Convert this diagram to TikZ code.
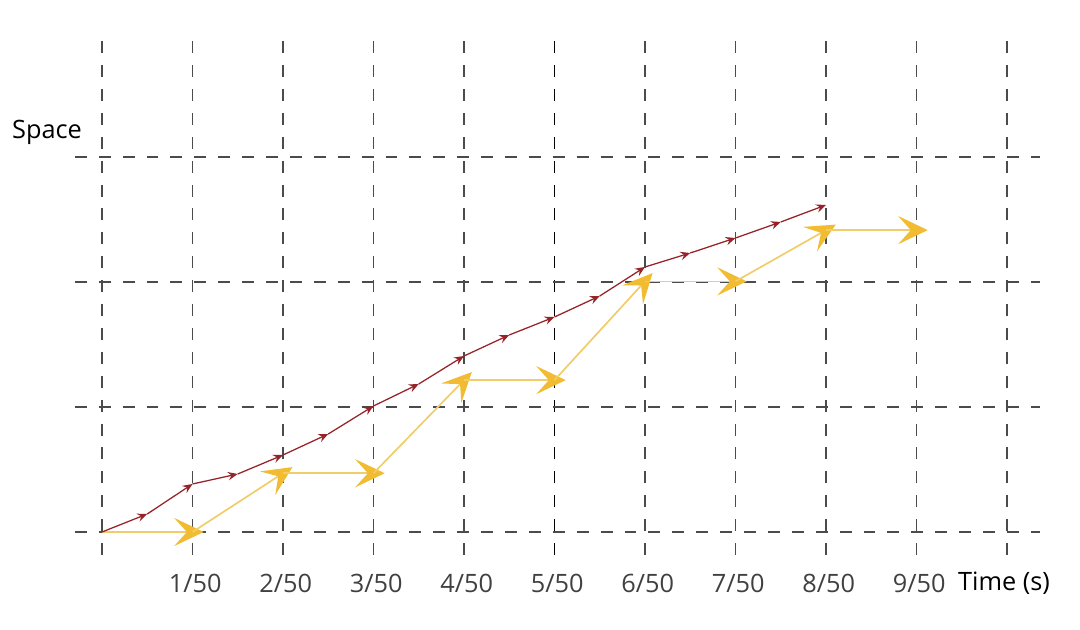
\documentclass[tikz,border=0pt]{standalone}
\usepackage{fontspec}
\setmainfont{Open Sans}
\usetikzlibrary{arrows.meta}
\definecolor{gridgray}{RGB}{75,75,75}
\definecolor{fastred}{RGB}{150,35,40}
\definecolor{slowgold}{RGB}{242,188,50}
\definecolor{slowline}{RGB}{240,205,105}
\tikzset{>=stealth,
  gridline/.style={gridgray, line width=0.9pt, dash pattern=on 8.5pt off 8.5pt},
  redstep/.style={fastred, line width=0.9pt, -{Stealth[length=7pt,width=6pt,inset=2.5pt]}},
  goldstep/.style={slowline, line width=1.2pt, -{Stealth[length=21pt,width=20pt,inset=9pt,color=slowgold]}, shorten >=-8pt},
  ticklabel/.style={font=\fontsize{18}{22}\selectfont, text=black!75},
  axislabel/.style={font=\fontsize{18}{22}\selectfont}
}

\begin{document}
\begin{tikzpicture}[x=2.2625cm, y=3.125cm]
    \useasboundingbox (-1.127,-0.784) rectangle (10.807,4.256);

    % grid
    \foreach \t in {0,...,10}
        \draw[gridline] (\t,-0.184) -- (\t,3.976);
    \draw[gridline, black, line width=1.2pt] (5,-0.184) -- (5,3.976);
    \foreach \s in {0,...,3}
        \draw[gridline] (-0.3,\s) -- (10.36,\s);

    % slow path
    \foreach \s [count=\i from 0] in {0,0,0.47,0.47,1.215,1.215,2.005,2.005,2.415,2.415}
        \coordinate (g\i) at (\i,\s);
    \foreach \i [remember=\i as \j (initially 0)] in {1,...,9}
        \draw[goldstep] (g\j) -- (g\i);

    % fast path
    \foreach \s [count=\i from 0] in {0,0.144,0.384,0.464,0.616,0.784,1.008,1.184,1.408,1.576,1.72,1.888,2.12,2.232,2.352,2.48,2.616}
        \coordinate (r\i) at (\i/2,\s);
    \foreach \i [remember=\i as \j (initially 0)] in {1,...,16}
        \draw[redstep] (r\j) -- (r\i);

    % labels
    \foreach \t in {1,...,9}
        \node[ticklabel] (tick\t) at (\t+0.03,-0.408) {\t/50};
    \node[axislabel] (spacelabel) at (-0.608,3.2) {Space};
    \node[axislabel] (timelabel) at (9.967,-0.408) {Time (s)};
\end{tikzpicture}
\end{document}
